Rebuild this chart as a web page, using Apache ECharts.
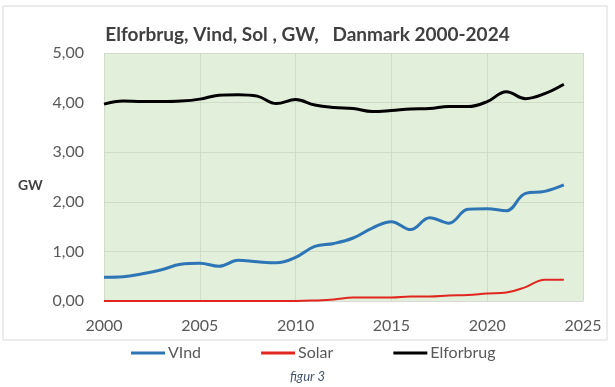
<!DOCTYPE html>
<html><head><meta charset="utf-8">
<script src="https://cdn.jsdelivr.net/npm/echarts@6/dist/echarts.min.js"></script>
<style>html,body{margin:0;padding:0;background:#fff}#c{width:615px;height:387px}</style>
</head><body><div id="c"></div>
<script>
const years = [2000,2001,2002,2003,2004,2005,2006,2007,2008,2009,2010,2011,2012,2013,2014,2015,2016,2017,2018,2019,2020,2021,2022,2023,2024];
const vind = [0.48,0.49,0.55,0.63,0.74,0.76,0.70,0.82,0.79,0.77,0.88,1.10,1.16,1.27,1.47,1.60,1.44,1.68,1.57,1.85,1.86,1.82,2.17,2.21,2.34];
const solar = [0,0,0,0,0,0,0,0,0,0,0,0.01,0.03,0.07,0.07,0.07,0.09,0.09,0.11,0.12,0.15,0.17,0.28,0.43,0.43];
const elforbrug = [3.97,4.03,4.02,4.02,4.03,4.07,4.15,4.16,4.13,3.98,4.06,3.95,3.90,3.88,3.82,3.84,3.87,3.88,3.92,3.92,4.02,4.22,4.08,4.18,4.37];
const names = ['VInd','Solar','Elforbrug'];
const titleText = 'Elforbrug, Vind, Sol , GW,   Danmark 2000-2024';
const caption = 'figur 3';

const pairs = arr => years.map((y,i)=>[y,arr[i]]);
const font = 'Lato, "Open Sans", sans-serif';
const chart = echarts.init(document.getElementById('c'));
chart.setOption({
  animation:false,
  backgroundColor:'#fff',
  graphic:[
    {type:'rect',shape:{x:3,y:6,width:604,height:334},style:{fill:'none',stroke:'#d9d9d9',lineWidth:1}},
    {type:'text',left:'center',top:370,style:{text:caption,font:'italic 13px '+font,fill:'#44546a'}},
    {type:'text',left:18,top:178,style:{text:'GW',font:'bold 14px '+font,fill:'#404040'}}
  ],
  title:{text:titleText,left:'center',top:20,textStyle:{fontFamily:font,fontSize:19,fontWeight:'bold',color:'#404040'}},
  legend:{top:340,left:126,itemGap:60,itemWidth:34,itemHeight:3,icon:'rect',
    textStyle:{fontFamily:font,fontSize:16,color:'#595959',padding:[0,0,0,-2]},data:names},
  grid:{left:104,right:32,top:53,bottom:86,show:true,backgroundColor:'#e2efda',borderWidth:0},
  xAxis:{type:'value',min:2000,max:2025,interval:5,
    axisLine:{show:true,lineStyle:{color:'#d9d9d9'}},axisTick:{show:false},
    splitLine:{show:true,lineStyle:{color:'#d0dcc8'}},
    axisLabel:{fontFamily:font,fontSize:16,color:'#595959',margin:17,formatter:v=>String(v)}},
  yAxis:{type:'value',min:0,max:5,interval:1,
    axisLine:{show:false},axisTick:{show:false},
    splitLine:{show:true,lineStyle:{color:'#d0dcc8'}},
    axisLabel:{fontFamily:font,fontSize:16,color:'#595959',margin:20,formatter:v=>v.toFixed(2).replace('.',',')}},
  series:[
    {name:names[0],type:'line',smooth:0.4,showSymbol:false,data:pairs(vind),lineStyle:{color:'#2e75b6',width:3},itemStyle:{color:'#2e75b6'}},
    {name:names[1],type:'line',smooth:0.4,showSymbol:false,data:pairs(solar),lineStyle:{color:'#e0261f',width:2},itemStyle:{color:'#e0261f'}},
    {name:names[2],type:'line',smooth:0.4,showSymbol:false,data:pairs(elforbrug),lineStyle:{color:'#000',width:3},itemStyle:{color:'#000'}}
  ]
});
</script></body></html>
